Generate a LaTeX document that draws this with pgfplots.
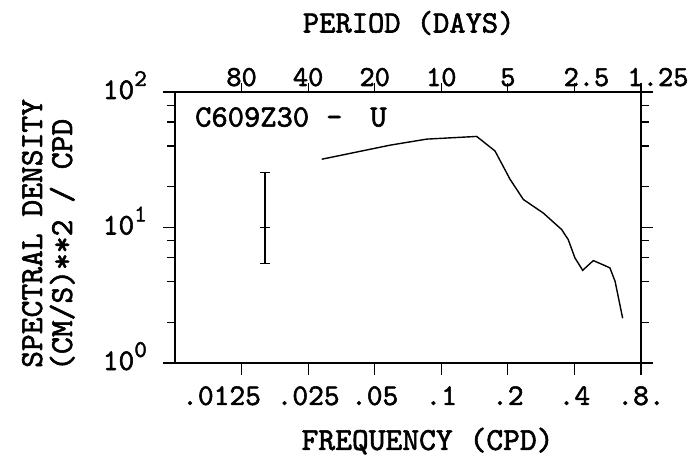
\documentclass[border=0pt]{standalone}
\usepackage{fontspec}
\usepackage{pgfplots}
\pgfplotsset{compat=1.18}
\newfontfamily\pf{lmmono10-regular.otf}[FakeBold=1.8]
\newcommand{\fs}[1]{\pf\fontsize{#1}{#1}\selectfont}
\newcommand{\sx}[2]{\makebox[0pt][c]{\hspace*{#1}#2}}
\newcommand{\pw}[1]{10\raisebox{13bp}{\fontsize{24bp}{24bp}\selectfont #1}}
\begin{document}
\begin{tikzpicture}
\begin{axis}[
  at={(0,0)}, anchor=south west, scale only axis,
  width=466bp, height=271bp,
  xmode=log, ymode=log,
  xmin=0.00625, xmax=0.8, ymin=1, ymax=100,
  xtick={0.0125,0.025,0.05,0.1,0.2,0.4,0.8},
  xticklabels={\sx{-40bp}{.0125},.025,.05,.1,.2,.4,.8.},
  xtick pos=bottom, xminorticks=false,
  ytick={1,10,100},
  yticklabels={\pw{0},\pw{1},\pw{2}},
  minor ytick={2,4,6,8,20,40,60,80},
  ytick pos=both,
  tick align=outside,
  major tick length=12bp, minor tick length=8bp,
  every tick/.style={black, line width=1.2bp},
  axis line style={line width=1.4bp},
  xticklabel style={font=\fs{30bp}, anchor=base, inner sep=0pt, yshift=-30bp},
  yticklabel style={font=\fs{30bp}, anchor=base east, inner sep=0pt, xshift=-16bp, yshift=-7bp},
  xlabel={FREQUENCY (CPD)},
  xlabel style={font=\fs{32bp}, at={(axis description cs:0.542,-0.288)}, anchor=center},
  clip=false,
]
\addplot[black, line width=1.4bp] coordinates {
(0.0288,31.9) (0.0586,40.5) (0.0859,44.9) (0.1446,47.0) (0.175,36.7)
(0.2046,22.7) (0.235,16.1) (0.289,12.8) (0.350,9.67) (0.375,8.15)
(0.402,5.97) (0.436,4.83) (0.487,5.70) (0.550,5.23) (0.579,5.03)
(0.611,4.0) (0.661,2.14)
};
\addplot[black, line width=1.1bp] coordinates {(0.01596,5.41) (0.01596,25.4)};
\addplot[black, only marks, mark=-, mark size=5bp, mark options={line width=1.3bp}]
  coordinates {(0.01596,5.41) (0.01596,10.05) (0.01596,25.4)};
\node[font=\fs{31bp}, anchor=west, inner sep=0pt] at (axis cs:0.0077,65.3)
  {C609Z30\hspace{0.55em}\textendash\hspace{0.9em}U};
\end{axis}
\begin{axis}[
  at={(0,0)}, anchor=south west, scale only axis,
  width=466bp, height=271bp,
  xmode=log, xmin=0.00625, xmax=0.8, ymin=0, ymax=1,
  axis x line*=top, hide y axis,
  x axis line style={-, line width=1.4bp},
  xtick={0.0125,0.025,0.05,0.1,0.2,0.4,0.8},
  xticklabels={80,40,20,10,5,\sx{24bp}{2.5},\sx{34bp}{1.25}},
  xminorticks=false,
  tick align=outside, major tick length=9bp,
  every tick/.style={black, line width=1.2bp},
  xticklabel style={font=\fs{29bp}, anchor=base, inner sep=0pt, yshift=-3bp},
  xlabel={PERIOD (DAYS)},
  xlabel style={font=\fs{31bp}, at={(axis description cs:0.5015,1.2546)}, anchor=center},
]
\addplot[draw=none] coordinates {(0.1,0.5)};
\end{axis}
\node[font=\fs{32bp}, rotate=90, anchor=base west, inner sep=0pt] at (-133bp,-5bp) {SPECTRAL DENSITY};
\node[font=\fs{32bp}, rotate=90, anchor=base west, inner sep=0pt] at (-103bp,-8bp) {(CM/S)**2 / CPD};
\pgfresetboundingbox
\path[use as bounding box] (-175bp,-100bp) rectangle (521bp,363bp);
\end{tikzpicture}
\end{document}
